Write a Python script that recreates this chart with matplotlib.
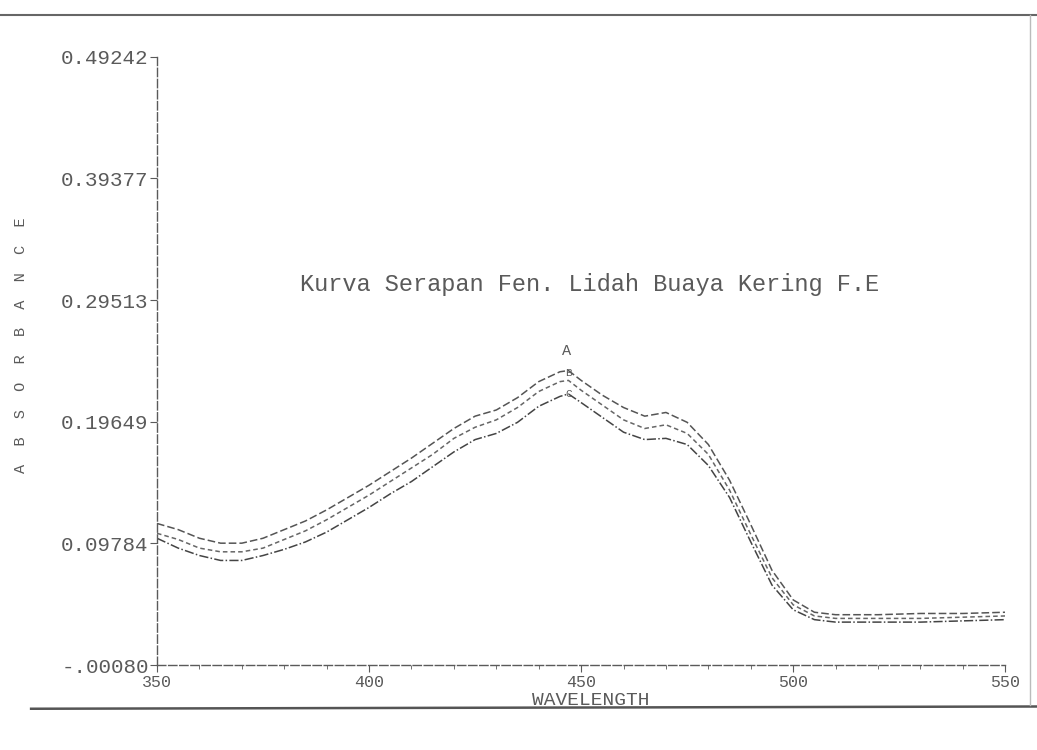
"""Absorption spectrum recreated from a scanned spectrophotometer printout."""

import matplotlib
matplotlib.use("Agg")
import matplotlib.pyplot as plt
from matplotlib.lines import Line2D

# wavelength (nm) and absorbance of the three scans
wavelength = [350, 355, 360, 365, 370, 375, 380, 385, 390, 395, 400, 405, 410,
              415, 420, 425, 430, 435, 440, 445, 447, 450, 455, 460, 465, 470,
              475, 480, 485, 490, 495, 500, 505, 510, 520, 530, 540, 550]
scan_a = [0.114, 0.109, 0.102, 0.098, 0.098, 0.102, 0.109, 0.116, 0.125, 0.135,
          0.145, 0.156, 0.167, 0.179, 0.191, 0.201, 0.206, 0.216, 0.229, 0.237,
          0.238, 0.230, 0.218, 0.208, 0.201, 0.204, 0.196, 0.178, 0.149, 0.113,
          0.076, 0.052, 0.042, 0.040, 0.040, 0.041, 0.041, 0.042]
scan_b = [0.106, 0.101, 0.094, 0.091, 0.091, 0.094, 0.101, 0.108, 0.117, 0.127,
          0.137, 0.148, 0.159, 0.170, 0.183, 0.192, 0.198, 0.208, 0.221, 0.229,
          0.230, 0.222, 0.210, 0.198, 0.191, 0.194, 0.187, 0.170, 0.141, 0.105,
          0.070, 0.048, 0.039, 0.037, 0.037, 0.037, 0.038, 0.039]
scan_c = [0.102, 0.094, 0.088, 0.084, 0.084, 0.088, 0.093, 0.099, 0.107, 0.117,
          0.127, 0.138, 0.148, 0.160, 0.172, 0.182, 0.187, 0.196, 0.209, 0.217,
          0.219, 0.212, 0.200, 0.188, 0.182, 0.183, 0.178, 0.161, 0.135, 0.099,
          0.064, 0.044, 0.036, 0.034, 0.034, 0.034, 0.035, 0.036]

y_ticks = [-0.00080, 0.09784, 0.19649, 0.29513, 0.39377, 0.49242]
y_tick_labels = ["-.00080", "0.09784", "0.19649", "0.29513", "0.39377", "0.49242"]
x_ticks = [350, 400, 450, 500, 550]
x_tick_labels = ["350", "400", "450", "500", "550"]

title = "Kurva Serapan Fen. Lidah Buaya Kering F.E"
ink = "#5a5a5a"
mono = ["Liberation Mono", "DejaVu Sans Mono"]

fig = plt.figure(figsize=(10.37, 7.5), dpi=100)
ax = fig.add_axes([0.1514, 0.1133, 0.818, 0.811])

ax.plot(wavelength, scan_a, color="#555555", linewidth=1.1, linestyle=(0, (5, 2)))
ax.plot(wavelength, scan_b, color="#666666", linewidth=1.1, linestyle=(0, (3, 2)))
ax.plot(wavelength, scan_c, color="#444444", linewidth=1.1, linestyle=(0, (6, 1.5, 1, 1.5)))

ax.set_xlim(350, 550)
ax.set_ylim(-0.00080, 0.49242)
ax.set_xticks(x_ticks)
ax.set_xticklabels(x_tick_labels)
ax.set_xticks(range(350, 551, 10), minor=True)
ax.set_yticks(y_ticks)
ax.set_yticklabels(y_tick_labels)

for spine in ["top", "right"]:
    ax.spines[spine].set_visible(False)
for spine in ["left", "bottom"]:
    ax.spines[spine].set_color(ink)
    ax.spines[spine].set_linestyle((0, (6, 2)))
    ax.spines[spine].set_linewidth(1.0)

ax.tick_params(axis="both", colors=ink, direction="out", length=5)
ax.tick_params(axis="x", which="minor", colors=ink, length=3)
ax.tick_params(axis="x", labelsize=12, pad=2)
ax.tick_params(axis="y", labelsize=15, pad=1)
for lbl in ax.get_xticklabels() + ax.get_yticklabels():
    lbl.set_family(mono)

ax.text(0.51, 0.625, title, transform=ax.transAxes, ha="center", va="center",
        fontsize=17, color=ink, family=mono)
ax.text(446.5, 0.254, "A", ha="center", va="center", fontsize=11, color=ink, family=mono)
ax.text(447, 0.236, "B", ha="center", va="center", fontsize=8, color=ink, family=mono)
ax.text(447, 0.219, "C", ha="center", va="center", fontsize=8, color=ink, family=mono)

fig.text(0.02, 0.54, "A  B  S  O  R  B  A  N  C  E", rotation=90, ha="center",
         va="center", fontsize=11, color=ink, family=mono)
fig.text(0.57, 0.066, "WAVELENGTH", ha="center", va="center",
         fontsize=14, color=ink, family=mono)

# page borders of the printout
fig.add_artist(Line2D([0.0, 1.0], [0.98, 0.98], transform=fig.transFigure,
                      color="#666666", linewidth=1.5))
fig.add_artist(Line2D([0.03, 1.0], [0.055, 0.058], transform=fig.transFigure,
                      color="#555555", linewidth=1.8))
fig.add_artist(Line2D([0.993, 0.993], [0.06, 0.98], transform=fig.transFigure,
                      color="#bbbbbb", linewidth=1.0))

fig.savefig("out.png", dpi=100, facecolor="white")
plt.close(fig)
